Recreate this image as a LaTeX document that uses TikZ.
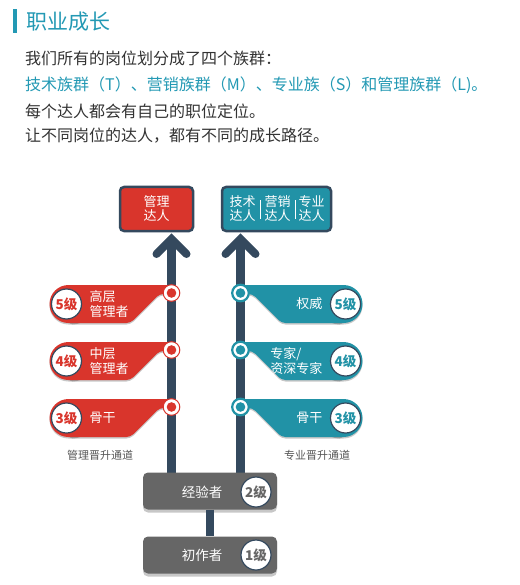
\documentclass[tikz,border=0pt]{standalone}
\usepackage{fontspec}
\setmainfont{Noto Sans CJK SC}
\definecolor{redc}{HTML}{D9352C}
\definecolor{tealc}{HTML}{2192A6}
\definecolor{titlec}{HTML}{2399B4}
\definecolor{slatec}{HTML}{34495E}
\definecolor{grayc}{HTML}{666666}
\definecolor{bodyc}{HTML}{333333}
\definecolor{labelc}{HTML}{555555}
\tikzset{
  bodytext/.style={anchor=west, inner sep=0pt, text=bodyc, font=\fontsize{16}{16}\selectfont},
  topbox/.style={draw=slatec, line width=2.5pt, rounded corners=4pt, minimum height=44pt, inner sep=0pt},
  boxtext/.style={text=white, align=center, inner sep=0pt, font=\fontsize{13}{14}\selectfont},
  badgetext/.style={text=white, align=left, inner sep=0pt, font=\fontsize{13}{15}\selectfont},
  lvl/.style={circle, fill=white, draw=slatec, line width=1.2pt, minimum size=30pt, inner sep=0pt, font=\bfseries\fontsize{13.5}{14}\selectfont},
  graybox/.style={fill=grayc, rounded corners=5pt, minimum width=134pt, minimum height=37pt, inner sep=0pt},
  shaft/.style={slatec, line width=9pt},
  chevron/.style={slatec, line width=8pt, line cap=round, line join=miter},
  chanlabel/.style={text=labelc, inner sep=0pt, font=\fontsize{11}{11}\selectfont},
  shadowfill/.style={black, opacity=.22},
}
% badge shape in local coordinates (dot at origin, badge to the left)
\newcommand\badgeshape[1]{%
  \fill[#1,rounded corners=19pt] (-122,-8) rectangle (-80,30);
  \fill[#1,rounded corners=4pt] (-103,-8) -- (0,-8) -- (0,1) -- (-12,1) -- (-41,30) -- (-103,30) -- cycle;}
% #1 name, #2 x, #3 y, #4 dir, #5 colour, #6 text, #7 level, #8 anchor, #9 ring width
\newcommand\mybadge[9]{%
  \begin{scope}[shift={(#2,#3)}, xscale=#4]
    \begin{scope}[yshift=-1.5pt]\badgeshape{shadowfill}\end{scope}
    \badgeshape{#5}
    \filldraw[fill=white, draw=#5, line width=#9] (0,0) circle (8.3);
    \fill[#5] (0,0) circle (4.8);
    \node[lvl, text=#5] (#1c) at (-105,11) {#7};
    \node[badgetext, anchor=#8] (#1t) at (-82,11) {#6};
  \end{scope}}
\begin{document}
\begin{tikzpicture}[x=1pt,y=-1pt]
\useasboundingbox[fill=white] (0,0) rectangle (519,585);
% header
\fill[titlec] (13,9) rectangle (17,33);
\node[anchor=west, inner sep=0pt, text=titlec, font=\fontsize{21}{21}\selectfont] (title) at (26,22) {职业成长};
\node[bodytext] (l1) at (25,58) {我们所有的岗位划分成了四个族群：};
\node[bodytext, text=titlec] (l2) at (25,85) {技术族群（T）、营销族群（M）、专业族（S）和管理族群（L)。};
\node[bodytext] (l3) at (25,111) {每个达人都会有自己的职位定位。};
\node[bodytext] (l4) at (25,136) {让不同岗位的达人，都有不同的成长路径。};
% shafts
\coordinate (ltop) at (171.5,239);
\coordinate (lbot) at (171.5,474);
\coordinate (rtop) at (240.5,239);
\coordinate (rbot) at (240.5,474);
\draw[shaft] (ltop) -- (lbot);
\draw[shaft] (rtop) -- (rbot);
\draw[chevron] ([shift={(-15,15)}]ltop) -- (ltop) -- ([shift={(15,15)}]ltop);
\draw[chevron] ([shift={(-15,15)}]rtop) -- (rtop) -- ([shift={(15,15)}]rtop);
% top boxes
\node[topbox, fill=redc, minimum width=73pt] (mgmt) at (156.5,209) {};
\node[boxtext] (mgmtt) at (mgmt.center) {管理\\达人};
\node[topbox, fill=tealc, minimum width=109pt] (prof) at (276.5,209) {};
\node[boxtext] (proft1) at (242.5,209) {技术\\达人};
\node[boxtext] (proft2) at (277.5,209) {营销\\达人};
\node[boxtext] (proft3) at (311.5,209) {专业\\达人};
\draw[white, line width=.6pt] (260.5,200) -- (260.5,219) (295,200) -- (295,219);
% badges
\mybadge{m5}{171.5}{293}{1}{redc}{高层\\管理者}{5级}{west}{1pt}
\mybadge{m4}{171.5}{350}{1}{redc}{中层\\管理者}{4级}{west}{1pt}
\mybadge{m3}{171.5}{407}{1}{redc}{骨干}{3级}{west}{1pt}
\mybadge{p5}{240.5}{293}{-1}{tealc}{权威}{5级}{east}{2.2pt}
\mybadge{p4}{240.5}{350}{-1}{tealc}{专家/\\资深专家}{4级}{east}{2.2pt}
\mybadge{p3}{240.5}{407}{-1}{tealc}{骨干}{3级}{east}{2.2pt}
\node[chanlabel] (mlab) at (100,455) {管理晋升通道};
\node[chanlabel] (plab) at (317,455) {专业晋升通道};
% bottom boxes
\fill[shadowfill, rounded corners=5pt] (143,474.5) rectangle (277,512.5);
\fill[shadowfill, rounded corners=5pt] (143,537.5) rectangle (277,576.5);
\node[graybox] (exp) at (210,491) {};
\node[graybox] (junior) at (210,555) {};
\draw[shaft, line width=8pt] (exp.south) -- (junior.north);
\node[boxtext, font=\fontsize{13.5}{14}\selectfont] (expt) at (202,492) {经验者};
\node[lvl, text=grayc] (expc) at (256,492) {2级};
\node[boxtext, font=\fontsize{13.5}{14}\selectfont] (juniort) at (202,555) {初作者};
\node[lvl, text=grayc] (juniorc) at (256,555) {1级};
\end{tikzpicture}
\end{document}
